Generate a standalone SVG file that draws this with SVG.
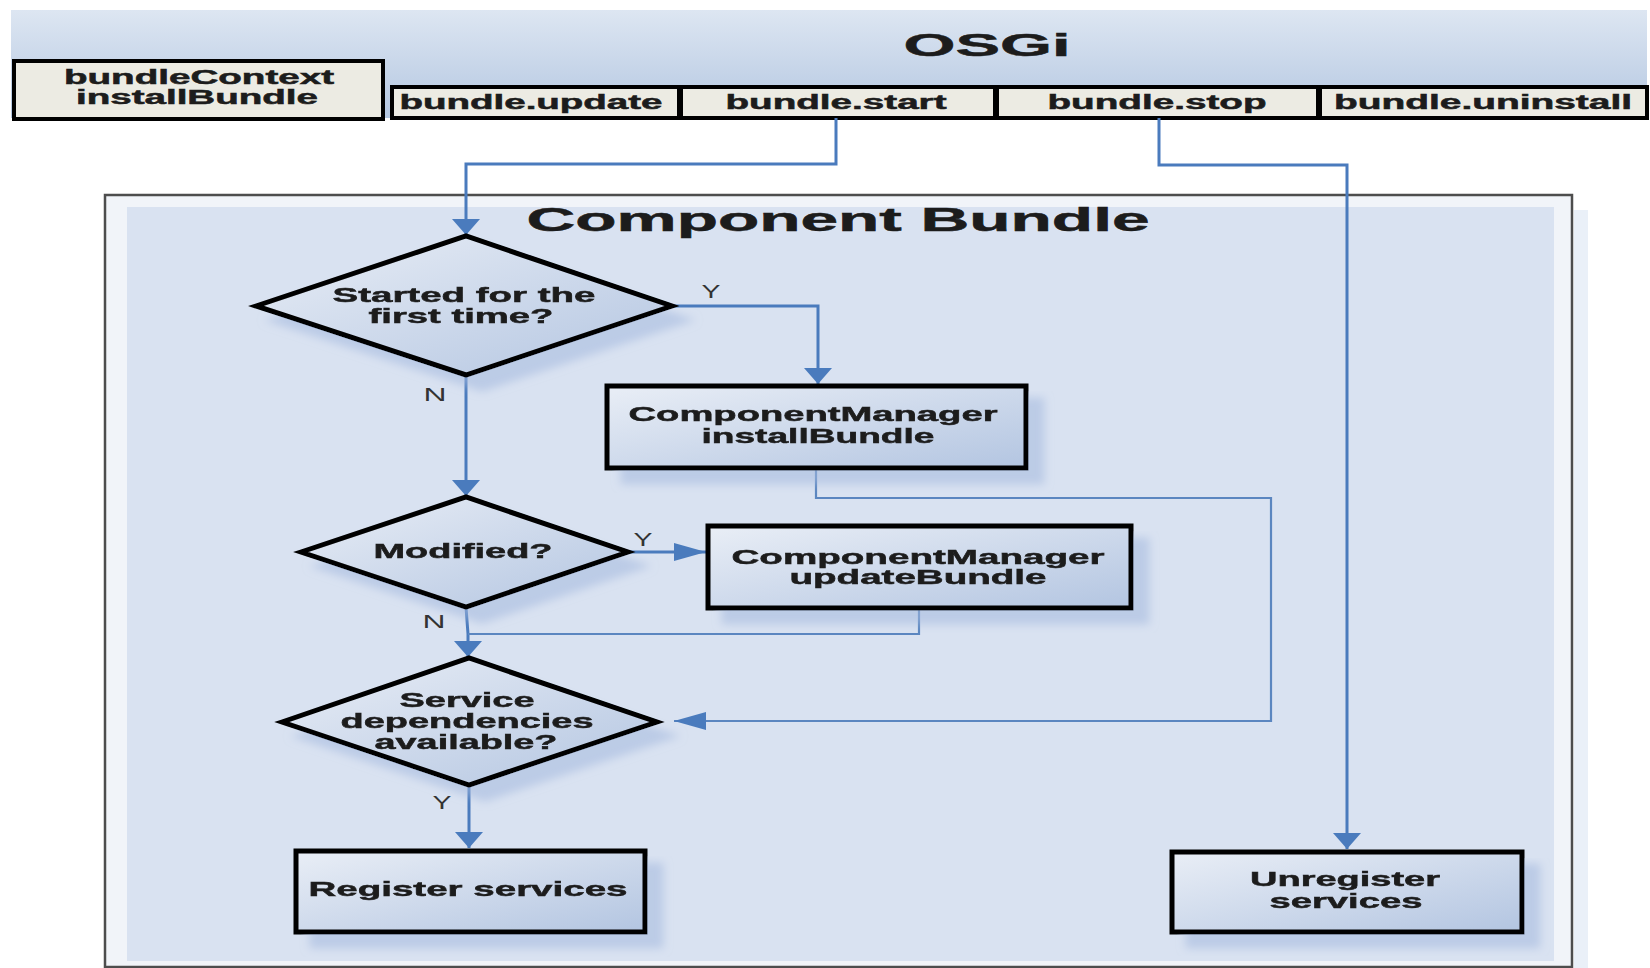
<svg xmlns="http://www.w3.org/2000/svg" width="1650" height="968" viewBox="0 0 1650 968">
<defs>
<linearGradient id="band" x1="0" y1="0" x2="0" y2="1">
<stop offset="0" stop-color="#dde6f2"/>
<stop offset="1" stop-color="#b4c7e1"/>
</linearGradient>
<linearGradient id="node" x1="0" y1="0" x2="1" y2="1">
<stop offset="0" stop-color="#e9eef6"/>
<stop offset="1" stop-color="#b3c5e1"/>
</linearGradient>
<filter id="shadow" x="-10%" y="-10%" width="130%" height="140%">
<feGaussianBlur in="SourceAlpha" stdDeviation="4" result="b"/>
<feOffset in="b" dx="16" dy="14" result="o"/>
<feFlood flood-color="#a4b9de" flood-opacity="0.55"/>
<feComposite in2="o" operator="in" result="s"/>
<feMerge><feMergeNode in="s"/><feMergeNode in="SourceGraphic"/></feMerge>
</filter>
<marker id="arrV" markerUnits="userSpaceOnUse" markerWidth="18" markerHeight="32" refX="16" refY="16" orient="auto">
<path d="M0,2 L16,16 L0,30 Z" fill="#4a7bbd"/>
</marker>
<marker id="arrH" markerUnits="userSpaceOnUse" markerWidth="34" markerHeight="20" refX="32" refY="10" orient="auto">
<path d="M0,1 L32,10 L0,19 Z" fill="#4a7bbd"/>
</marker>
</defs>
<style>
.t{font-family:"Liberation Sans",Arial,sans-serif;font-weight:bold;fill:#1c1c1c;stroke:#1c1c1c;stroke-width:0.5;text-anchor:middle}
.lbl{font-family:"Liberation Sans",Arial,sans-serif;fill:#333;text-anchor:middle;font-size:19px}
.hdr{fill:#ecebe3;stroke:#000;stroke-width:4}
.nd{fill:url(#node);stroke:#000;stroke-width:5}
.c{fill:none;stroke:#4a7bbd;stroke-width:3}
.c2{fill:none;stroke:#5b86c0;stroke-width:2.2}
</style>
<rect width="1650" height="968" fill="#ffffff"/>

<g id="osgi">
<rect x="11" y="10" width="1636" height="108" fill="url(#band)"/>
<text class="t" x="987" y="56" font-size="32" textLength="167" lengthAdjust="spacingAndGlyphs">OSGi</text>
</g>
<g id="bundleContext">
<rect class="hdr" x="14" y="61" width="369" height="58" stroke-width="5"/>
<text class="t" x="199" y="84" font-size="20" textLength="270" lengthAdjust="spacingAndGlyphs">bundleContext</text>
<text class="t" x="197" y="104" font-size="20" textLength="242" lengthAdjust="spacingAndGlyphs">installBundle</text>
</g>
<g id="bundle-update">
<rect class="hdr" x="392" y="87" width="287" height="31"/>
<text class="t" x="531" y="109" font-size="20" textLength="263" lengthAdjust="spacingAndGlyphs">bundle.update</text>
</g>
<g id="bundle-start">
<rect class="hdr" x="681" y="87" width="314" height="31"/>
<text class="t" x="836" y="109" font-size="20" textLength="221" lengthAdjust="spacingAndGlyphs">bundle.start</text>
</g>
<g id="bundle-stop">
<rect class="hdr" x="997" y="87" width="321" height="31"/>
<text class="t" x="1157" y="109" font-size="20" textLength="219" lengthAdjust="spacingAndGlyphs">bundle.stop</text>
</g>
<g id="bundle-uninstall">
<rect class="hdr" x="1320" y="87" width="327" height="31"/>
<text class="t" x="1483" y="109" font-size="20" textLength="298" lengthAdjust="spacingAndGlyphs">bundle.uninstall</text>
</g>

<g id="component-bundle">
<rect x="1574" y="210" width="14" height="758" fill="#eaf0f8"/>
<rect x="105" y="195" width="1467" height="772" fill="#f1f4f9" stroke="#4d4d4d" stroke-width="2.5"/>
<rect x="127" y="207" width="1427" height="754" fill="#d9e2f1"/>
<text class="t" x="838" y="231" font-size="34" textLength="623" lengthAdjust="spacingAndGlyphs">Component Bundle</text>
</g>

<g id="connectors">
<polyline class="c" points="836,118 836,164 466,164 466,235" marker-end="url(#arrV)"/>
<polyline class="c" points="1159,118 1159,165 1347,165 1347,849" marker-end="url(#arrV)"/>
<polyline class="c" points="672,306 818,306 818,384" marker-end="url(#arrV)"/>
<polyline class="c" points="466,375 466,496" marker-end="url(#arrV)"/>
<polyline class="c" points="628,552 706,552" marker-end="url(#arrH)"/>
<polyline class="c" points="466,607 468,634 468,657" marker-end="url(#arrV)"/>
<polyline class="c2" points="919,608 919,634 468,634"/>
<polyline class="c2" points="816,468 816,498 1271,498 1271,721 674,721" marker-end="url(#arrH)"/>
<polyline class="c" points="469,785 469,848" marker-end="url(#arrV)"/>
<text class="lbl" x="711" y="298" textLength="19" lengthAdjust="spacingAndGlyphs">Y</text>
<text class="lbl" x="435" y="401" textLength="23" lengthAdjust="spacingAndGlyphs">N</text>
<text class="lbl" x="643" y="546" textLength="19" lengthAdjust="spacingAndGlyphs">Y</text>
<text class="lbl" x="434" y="628" textLength="23" lengthAdjust="spacingAndGlyphs">N</text>
<text class="lbl" x="442" y="809" textLength="19" lengthAdjust="spacingAndGlyphs">Y</text>
</g>

<g id="started" filter="url(#shadow)">
<polygon class="nd" points="256,306 466,236 672,306 466,375" stroke-width="6"/>
<text class="t" x="464" y="302" font-size="21" textLength="263" lengthAdjust="spacingAndGlyphs">Started for the</text>
<text class="t" x="461" y="323" font-size="21" textLength="185" lengthAdjust="spacingAndGlyphs">first time?</text>
</g>
<g id="install" filter="url(#shadow)">
<rect class="nd" x="607" y="386" width="419" height="82"/>
<text class="t" x="813" y="421" font-size="21" textLength="369" lengthAdjust="spacingAndGlyphs">ComponentManager</text>
<text class="t" x="818" y="443" font-size="21" textLength="233" lengthAdjust="spacingAndGlyphs">installBundle</text>
</g>
<g id="modified" filter="url(#shadow)">
<polygon class="nd" points="301,552 466,497 628,552 466,607" stroke-width="6"/>
<text class="t" x="463" y="558" font-size="21" textLength="179" lengthAdjust="spacingAndGlyphs">Modified?</text>
</g>
<g id="update" filter="url(#shadow)">
<rect class="nd" x="708" y="526" width="423" height="82"/>
<text class="t" x="918" y="564" font-size="21" textLength="373" lengthAdjust="spacingAndGlyphs">ComponentManager</text>
<text class="t" x="918" y="584" font-size="21" textLength="257" lengthAdjust="spacingAndGlyphs">updateBundle</text>
</g>
<g id="service" filter="url(#shadow)">
<polygon class="nd" points="282,722 469,658 657,722 469,785" stroke-width="6"/>
<text class="t" x="467" y="707" font-size="21" textLength="135" lengthAdjust="spacingAndGlyphs">Service</text>
<text class="t" x="467" y="728" font-size="21" textLength="253" lengthAdjust="spacingAndGlyphs">dependencies</text>
<text class="t" x="466" y="749" font-size="21" textLength="183" lengthAdjust="spacingAndGlyphs">available?</text>
</g>
<g id="register" filter="url(#shadow)">
<rect class="nd" x="296" y="851" width="349" height="81"/>
<text class="t" x="468" y="896" font-size="21" textLength="319" lengthAdjust="spacingAndGlyphs">Register services</text>
</g>
<g id="unregister" filter="url(#shadow)">
<rect class="nd" x="1172" y="852" width="350" height="80"/>
<text class="t" x="1345" y="886" font-size="21" textLength="190" lengthAdjust="spacingAndGlyphs">Unregister</text>
<text class="t" x="1346" y="908" font-size="21" textLength="153" lengthAdjust="spacingAndGlyphs">services</text>
</g>
</svg>
